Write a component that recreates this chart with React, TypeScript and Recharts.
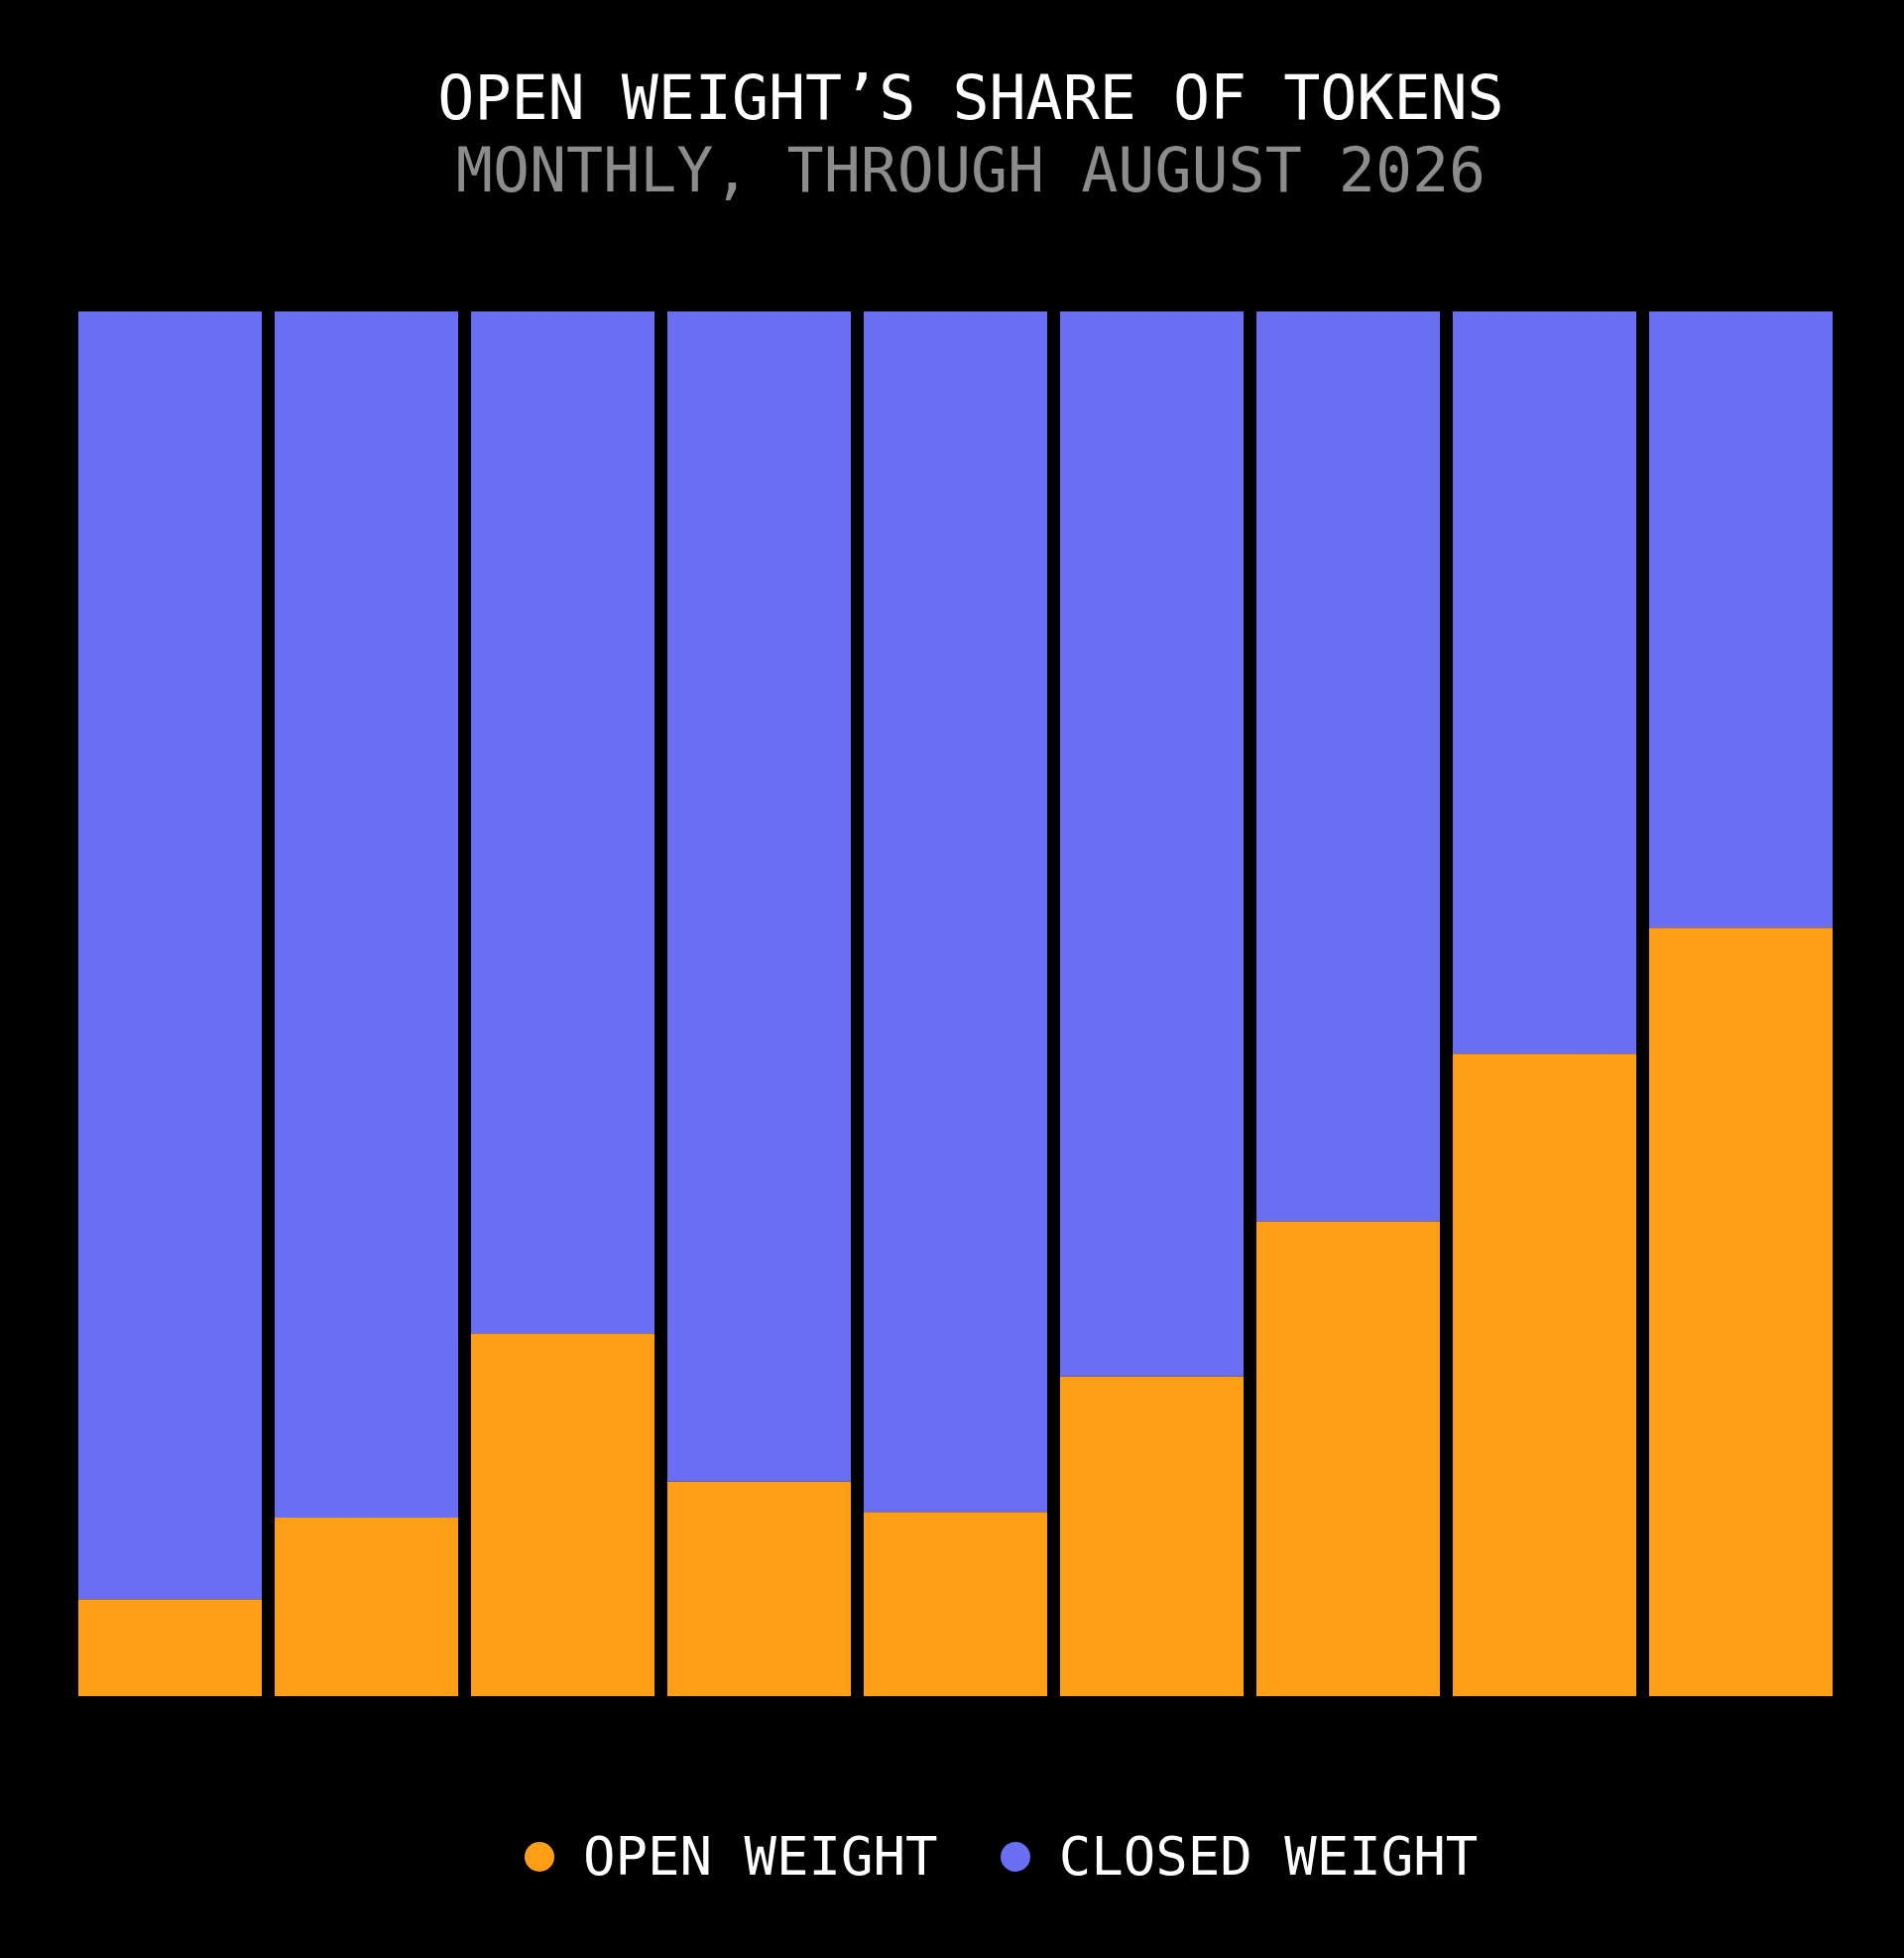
import { BarChart, Bar, XAxis, YAxis } from 'recharts';

// ── Colours ───────────────────────────────────────────────────────────────────
const OPEN_COLOR = '#FF9F18';
const CLOSED_COLOR = '#696EF2';
const BG = '#000000';
const SUBTITLE_COLOR = '#8C8C8C';
const FONT = '"DejaVu Sans Mono", "Liberation Mono", monospace';

// ── Data (share of tokens, %) ─────────────────────────────────────────────────
const MONTHS = [
  'Dec 2025', 'Jan 2026', 'Feb 2026', 'Mar 2026', 'Apr 2026',
  'May 2026', 'Jun 2026', 'Jul 2026', 'Aug 2026',
];
const OPEN_SHARE = [7.0, 12.9, 26.2, 15.5, 13.3, 23.1, 34.3, 46.4, 55.5];
const CLOSED_SHARE = [93.0, 87.1, 73.8, 84.5, 86.7, 76.9, 65.7, 53.6, 44.5];
const SERIES_LABELS = ['OPEN WEIGHT', 'CLOSED WEIGHT'];
const SERIES_COLORS = [OPEN_COLOR, CLOSED_COLOR];

const TITLE = 'OPEN WEIGHT\u2019S SHARE OF TOKENS';
const SUBTITLE = 'MONTHLY, THROUGH AUGUST 2026';

const data = MONTHS.map((month, i) => ({
  month,
  open: OPEN_SHARE[i],
  closed: CLOSED_SHARE[i],
}));

export default function App() {
  return (
    <div
      style={{
        position: 'absolute',
        left: 0,
        top: 0,
        width: 1920,
        height: 1974,
        background: BG,
        overflow: 'hidden',
        fontFamily: FONT,
      }}
    >
      <BarChart
        width={1920}
        height={1974}
        data={data}
        margin={{ top: 314, right: 65.5, bottom: 264, left: 72.5 }}
        barCategoryGap={6.5}
      >
        <XAxis dataKey="month" hide />
        <YAxis hide domain={[0, 100]} />
        <Bar dataKey="open" stackId="share" fill={OPEN_COLOR} isAnimationActive={false} />
        <Bar dataKey="closed" stackId="share" fill={CLOSED_COLOR} isAnimationActive={false} />
      </BarChart>

      {/* title block */}
      <svg
        width={1920}
        height={240}
        style={{ position: 'absolute', left: 0, top: 0 }}
      >
        <text x={979} y={120} textAnchor="middle" fill="#ffffff" fontSize={61.6} fontFamily={FONT}>
          {TITLE}
        </text>
        <text x={979} y={193} textAnchor="middle" fill={SUBTITLE_COLOR} fontSize={61.6} fontFamily={FONT}>
          {SUBTITLE}
        </text>
      </svg>

      {/* legend */}
      <div
        style={{
          position: 'absolute',
          left: 529,
          top: 1845,
          height: 54,
          display: 'flex',
          alignItems: 'center',
        }}
      >
        {SERIES_LABELS.map((label, i) => (
          <div
            key={label}
            style={{ display: 'flex', alignItems: 'center', marginRight: 63 }}
          >
            <span
              style={{
                width: 30,
                height: 30,
                borderRadius: '50%',
                background: SERIES_COLORS[i],
                marginRight: 29,
                display: 'inline-block',
              }}
            />
            <span style={{ color: '#ffffff', fontSize: 54, lineHeight: '54px', whiteSpace: 'pre' }}>
              {label}
            </span>
          </div>
        ))}
      </div>
    </div>
  );
}
